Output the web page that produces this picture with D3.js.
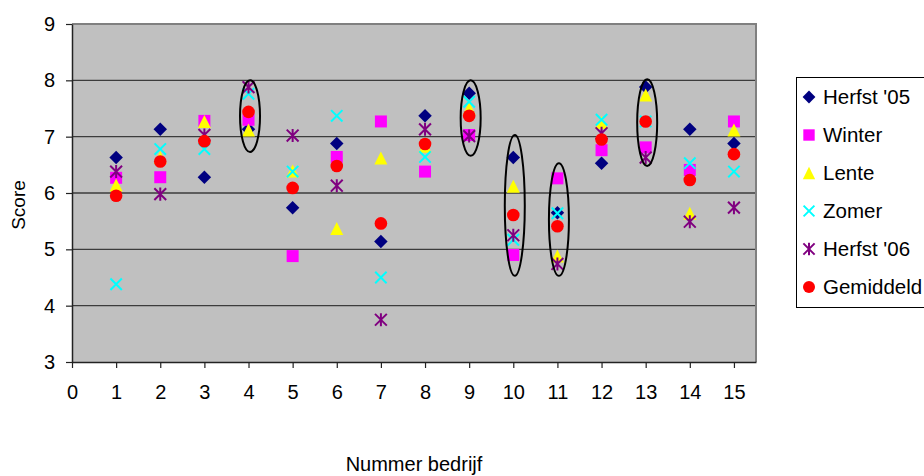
<!DOCTYPE html>
<html>
<head>
<meta charset="utf-8">
<script src="https://cdn.jsdelivr.net/npm/d3@7"></script>
<style>
  body { margin: 0; background: #fff; }
  text { font-family: "Liberation Sans", Arial, sans-serif; fill: #000; }
</style>
</head>
<body>
<svg id="chart" width="924" height="476"></svg>
<script>
// DATA
var bedrijven = [1, 2, 3, 4, 5, 6, 7, 8, 9, 10, 11, 12, 13, 14, 15];
var herfst05  = [6.63, 7.13, 6.28, 7.13, 5.74, 6.88, 5.14, 7.37, 7.77, 6.63, 5.65, 6.53, 7.88, 7.13, 6.88];
var winter    = [6.27, 6.28, 7.28, 7.30, 4.88, 6.64, 7.27, 6.38, 7.03, 4.90, 6.26, 6.76, 6.81, 6.41, 7.27];
var lente     = [6.14, 6.63, 7.27, 7.12, 6.39, 5.37, 6.62, 6.83, 7.50, 6.12, 4.88, 7.25, 7.74, 5.64, 7.12];
var zomer     = [4.38, 6.78, 6.78, 7.76, 6.38, 7.37, 4.50, 6.64, 7.62, 5.17, 5.64, 7.30, 7.27, 6.53, 6.38];
var herfst06  = [6.38, 5.98, 7.03, 7.88, 7.02, 6.13, 3.75, 7.13, 7.01, 5.25, 4.74, 7.06, 6.63, 5.49, 5.74];
var gemiddeld = [5.95, 6.56, 6.92, 7.44, 6.09, 6.48, 5.46, 6.87, 7.37, 5.61, 5.41, 6.95, 7.27, 6.23, 6.69];
var seriesNames = ["Herfst '05", "Winter", "Lente", "Zomer", "Herfst '06", "Gemiddeld"];
var xTicks = [0, 1, 2, 3, 4, 5, 6, 7, 8, 9, 10, 11, 12, 13, 14, 15];
var yTicks = [3, 4, 5, 6, 7, 8, 9];
// omcirkelde bedrijven: bedrijf, bovenkant, onderkant (score)
var cirkelBedrijf = [4, 9, 10, 11, 13];
var cirkelBoven   = [8.00, 8.00, 7.03, 6.53, 8.02];
var cirkelOnder   = [6.73, 6.66, 4.53, 4.53, 6.48];

var svg = d3.select("#chart");
var plotLeft = 72, plotRight = 756, plotTop = 24, plotBottom = 362;

var x = d3.scaleLinear().domain([0, 15.5]).range([plotLeft, plotRight]);
var y = d3.scaleLinear().domain([3, 9]).range([plotBottom, plotTop]);

// custom marker shapes
var diamond = { draw: function (c, s) { var r = Math.sqrt(s) / 2 * 1.35;
  c.moveTo(0, -r); c.lineTo(r, 0); c.lineTo(0, r); c.lineTo(-r, 0); c.closePath(); } };
var triangle = { draw: function (c, s) { var h = Math.sqrt(s);
  c.moveTo(0, -h / 2); c.lineTo(h / 2, h / 2); c.lineTo(-h / 2, h / 2); c.closePath(); } };
var cross = { draw: function (c, s) { var r = Math.sqrt(s) / 2;
  c.moveTo(-r, -r); c.lineTo(r, r); c.moveTo(r, -r); c.lineTo(-r, r); } };
var star = { draw: function (c, s) { var r = Math.sqrt(s) / 2;
  c.moveTo(-r, -r); c.lineTo(r, r); c.moveTo(r, -r); c.lineTo(-r, r);
  c.moveTo(0, -r * 1.1); c.lineTo(0, r * 1.1); } };

var series = [
  { naam: seriesNames[0], data: herfst05,  type: diamond,         size: 100, fill: "#000080", stroke: "none" },
  { naam: seriesNames[1], data: winter,    type: d3.symbolSquare, size: 144, fill: "#FF00FF", stroke: "none" },
  { naam: seriesNames[2], data: lente,     type: triangle,        size: 169, fill: "#FFFF00", stroke: "none" },
  { naam: seriesNames[3], data: zomer,     type: cross,           size: 130, fill: "none",    stroke: "#00FFFF" },
  { naam: seriesNames[4], data: herfst06,  type: star,            size: 140, fill: "none",    stroke: "#800080" },
  { naam: seriesNames[5], data: gemiddeld, type: d3.symbolCircle, size: 125, fill: "#FF0000", stroke: "none" }
];

// PLOT AREA
svg.append("rect")
  .attr("x", plotLeft).attr("y", plotTop)
  .attr("width", plotRight - plotLeft).attr("height", plotBottom - plotTop)
  .attr("fill", "#C0C0C0");

// GRIDLINES
svg.append("g")
  .selectAll("line")
  .data(yTicks.slice(1, -1))
  .enter()
  .append("line")
  .attr("x1", plotLeft).attr("x2", plotRight)
  .attr("y1", function (d) { return y(d); })
  .attr("y2", function (d) { return y(d); })
  .attr("stroke", "#3c3c3c")
  .attr("stroke-width", 1.4);

// border top/right
svg.append("path")
  .attr("d", "M" + plotLeft + "," + y(9) + "H" + plotRight + "V" + plotBottom)
  .attr("fill", "none")
  .attr("stroke", "#808080")
  .attr("stroke-width", 2);

// X-AXIS
var xAxis = svg.append("g")
  .attr("transform", "translate(0," + plotBottom + ")")
  .call(d3.axisBottom(x).tickValues(xTicks).tickFormat(d3.format("d"))
    .tickSize(6).tickPadding(17).tickSizeOuter(0));
xAxis.selectAll("text").attr("font-size", "20px").attr("fill", "#000");

// Y-AXIS
var yAxis = svg.append("g")
  .attr("transform", "translate(" + plotLeft + ",0)")
  .call(d3.axisLeft(y).tickValues(yTicks).tickFormat(d3.format("d"))
    .tickSize(6).tickPadding(11).tickSizeOuter(0));
yAxis.selectAll("text").attr("font-size", "20px").attr("fill", "#000");

[xAxis, yAxis].forEach(function (a) {
  a.select(".domain").attr("stroke", "#222").attr("stroke-width", 1.5);
  a.selectAll(".tick line").attr("stroke", "#222").attr("stroke-width", 1.2);
  a.attr("font-family", null);
});

// MARKERS
series.forEach(function (s) {
  svg.append("g")
    .selectAll("path")
    .data(s.data)
    .enter()
    .append("path")
    .attr("transform", function (d, i) { return "translate(" + x(bedrijven[i]) + "," + y(d) + ")"; })
    .attr("d", d3.symbol().type(s.type).size(s.size))
    .attr("fill", s.fill)
    .attr("stroke", s.stroke)
    .attr("stroke-width", s.stroke === "none" ? 0 : 2);
});

// ELLIPSES
svg.append("g")
  .selectAll("ellipse")
  .data(cirkelBedrijf)
  .enter()
  .append("ellipse")
  .attr("cx", function (d) { return x(d) + 1.5; })
  .attr("cy", function (d, i) { return (y(cirkelBoven[i]) + y(cirkelOnder[i])) / 2; })
  .attr("rx", 10)
  .attr("ry", function (d, i) { return (y(cirkelOnder[i]) - y(cirkelBoven[i])) / 2; })
  .attr("fill", "none")
  .attr("stroke", "#000")
  .attr("stroke-width", 2);

// AXIS TITLES
svg.append("text")
  .attr("transform", "translate(25," + ((plotTop + plotBottom) / 2 + 12) + ") rotate(-90)")
  .attr("text-anchor", "middle")
  .attr("font-size", "19px")
  .text("Score");

svg.append("text")
  .attr("x", (plotLeft + plotRight) / 2)
  .attr("y", 471)
  .attr("text-anchor", "middle")
  .attr("font-size", "20px")
  .text("Nummer bedrijf");

// LEGEND
var legend = svg.append("g");
legend.append("rect")
  .attr("x", 796.5).attr("y", 77.5)
  .attr("width", 140).attr("height", 230)
  .attr("fill", "#fff")
  .attr("stroke", "#000");

var item = legend.selectAll(".item")
  .data(series)
  .enter()
  .append("g")
  .attr("class", "item")
  .attr("transform", function (d, i) { return "translate(0," + (97 + i * 38) + ")"; });

item.append("path")
  .attr("transform", "translate(809,0)")
  .attr("d", function (d) { return d3.symbol().type(d.type).size(d.size * 0.9)(); })
  .attr("fill", function (d) { return d.fill; })
  .attr("stroke", function (d) { return d.stroke; })
  .attr("stroke-width", function (d) { return d.stroke === "none" ? 0 : 2; });

item.append("text")
  .attr("x", 823)
  .attr("dy", "0.36em")
  .attr("font-size", "20.5px")
  .text(function (d) { return d.naam; });
</script>
</body>
</html>
